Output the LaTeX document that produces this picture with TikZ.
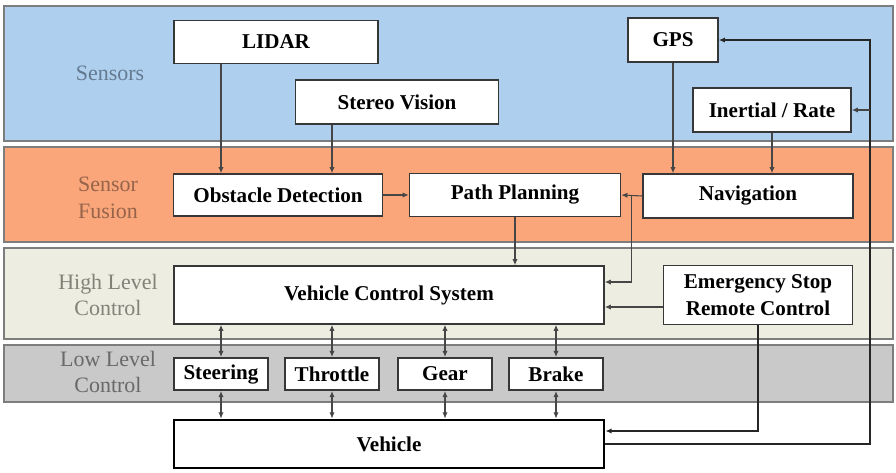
\documentclass[tikz,border=0pt]{standalone}
\usepackage{fontspec}
\setmainfont{Liberation Serif}
\usetikzlibrary{arrows.meta, positioning, calc}

\begin{document}
\begin{tikzpicture}[x=0.2mm, y=-0.2mm, >={Latex[length=3.5pt,width=3pt]},
  box/.style={draw=boxline, line width=0.9pt, fill=white, align=center, inner sep=0pt,
    font=\fontsize{12}{15}\selectfont\bfseries},
  band/.style={draw=bandline, line width=0.8pt},
  bandlabel/.style={align=center, font=\fontsize{12.5}{15}\selectfont},
  link/.style={draw=linkgray, line width=0.6pt, ->},
  twoway/.style={draw=linkgray, line width=0.6pt, <->},
  heavy/.style={draw=black!85, line width=1pt, ->}]
  % Define colors
  \definecolor{sensorblue}{RGB}{174,207,238}
  \definecolor{fusionorange}{RGB}{250,166,122}
  \definecolor{highbeige}{RGB}{237,237,226}
  \definecolor{lowgray}{RGB}{201,201,201}
  \definecolor{bandline}{RGB}{125,125,125}
  \definecolor{boxline}{RGB}{55,55,55}
  \definecolor{linkgray}{RGB}{70,70,70}

  \useasboundingbox (0,0) rectangle (896,472);

  % Layer bands
  \draw[band, fill=sensorblue] (4,6) rectangle (893,141);
  \draw[band, fill=fusionorange] (4,147) rectangle (893,242);
  \draw[band, fill=highbeige] (4,248) rectangle (893,339);
  \draw[band, fill=lowgray] (4,345) rectangle (893,402);

  % Layer names
  \node[bandlabel, text={rgb,255:red,100;green,122;blue,145}] (lsens) at (110,73) {Sensors};
  \node[bandlabel, text={rgb,255:red,150;green,100;blue,75}] (lfus) at (108,198) {Sensor\\Fusion};
  \node[bandlabel, text={rgb,255:red,130;green,130;blue,120}] (lhigh) at (108,295) {High Level\\Control};
  \node[bandlabel, text={rgb,255:red,105;green,105;blue,105}] (llow) at (108,372) {Low Level\\Control};

  % Sensors
  \node[box, minimum width=40.8mm, minimum height=8.6mm] (lidar) at (276,42) {LIDAR};
  \node[box, minimum width=40.6mm, minimum height=8.8mm] (stereo) at (397,102) {Stereo Vision};
  \node[box, minimum width=18mm, minimum height=8.8mm] (gps) at (673,40) {GPS};
  \node[box, minimum width=31.6mm, minimum height=8.8mm] (ins) at (772,110) {Inertial / Rate};

  % Sensor fusion
  \node[box, minimum width=41.8mm, minimum height=8.4mm] (obst) at (278,195) {Obstacle Detection};
  \node[box, minimum width=42.2mm, minimum height=8.6mm] (pp) at (515,195) {Path Planning};
  \node[box, minimum width=42mm, minimum height=8.8mm] (nav) at (748,196) {Navigation};

  % High level control
  \node[box, minimum width=86mm, minimum height=11.6mm] (vcs) at (389,295) {Vehicle Control System};
  \node[box, minimum width=37.8mm, minimum height=11.8mm] (estop) at (758,295) {Emergency Stop\\Remote Control};

  % Low level control
  \node[box, line width=1.2pt, minimum width=18.8mm, minimum height=6.4mm] (steer) at (221,374) {Steering};
  \node[box, line width=1.2pt, minimum width=18.8mm, minimum height=6.4mm] (throt) at (332,374) {Throttle};
  \node[box, line width=1.2pt, minimum width=18.8mm, minimum height=6.4mm] (gear) at (445,374) {Gear};
  \node[box, line width=1.2pt, minimum width=18.8mm, minimum height=6.4mm] (brake) at (556,374) {Brake};

  % Vehicle
  \node[box, draw=black, line width=1.6pt, minimum width=86mm, minimum height=9.6mm] (veh) at (389,444) {Vehicle};

  % Sensor links
  \draw[link] (lidar.south -| steer) -- (obst.north -| steer);
  \draw[link] (stereo.south -| throt) -- (obst.north -| throt);
  \draw[link] (gps.south) -- (nav.north -| gps);
  \draw[link] (ins.south) -- (nav.north -| ins);

  % Fusion links
  \draw[link] (obst.east) -- (pp.west);
  \coordinate (navj) at ($(nav.west)!0.5!(pp.east)$);
  \draw[link] (nav.west) -- (pp.east);
  \draw[link] (navj) |- ([yshift=2.6mm]vcs.east);
  \draw[link] (pp.south) -- (vcs.north -| pp);
  \draw[link] ([yshift=-2.4mm]estop.west) -- ([yshift=-2.4mm]vcs.east);

  % Actuator links
  \foreach \act in {steer, throt, gear, brake} {
    \draw[twoway] (vcs.south -| \act) -- (\act.north);
    \draw[twoway] (\act.south) -- (veh.north -| \act);
  }

  % Feedback loops
  \draw[heavy] (estop.south) |- ([yshift=2.6mm]veh.east);
  \coordinate (loop) at (870,40);
  \draw[heavy] (veh.east) -| (loop) -- (gps.east);
  \draw[link] (loop |- ins.east) -- (ins.east);
\end{tikzpicture}
\end{document}
